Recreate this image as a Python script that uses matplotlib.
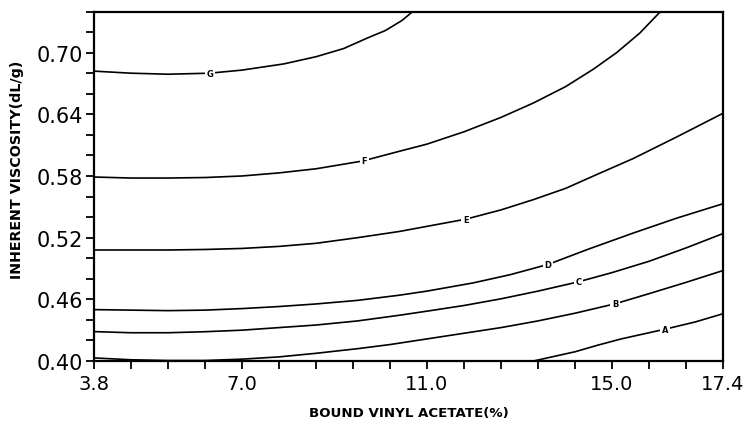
import numpy as np
import matplotlib
matplotlib.use("Agg")
import matplotlib.pyplot as plt

# contour lines of inherent viscosity vs bound vinyl acetate, labelled A..G
curve_names = ["A", "B", "C", "D", "E", "F", "G"]

x_A = [13.3, 13.7, 14.2, 14.7, 15.2, 15.7, 16.15, 16.8, 17.4]
y_A = [0.400, 0.404, 0.409, 0.4155, 0.4215, 0.4265, 0.431, 0.438, 0.446]

x_B = [3.8, 4.6, 5.4, 6.2, 7.0, 7.8, 8.6, 9.5, 10.2, 11.0, 11.8, 12.6, 13.4, 14.2, 15.07, 15.8, 16.6, 17.4]
y_B = [0.403, 0.4012, 0.4005, 0.4005, 0.4018, 0.404, 0.4075, 0.412, 0.416, 0.4215, 0.427, 0.4325,
       0.439, 0.4465, 0.4557, 0.4655, 0.4765, 0.488]

x_C = [3.8, 4.6, 5.4, 6.2, 7.0, 7.8, 8.6, 9.5, 10.4, 11.0, 11.8, 12.6, 13.4, 14.27, 15.0, 15.8, 16.6, 17.4]
y_C = [0.4286, 0.4275, 0.4275, 0.4285, 0.430, 0.4325, 0.435, 0.439, 0.4445, 0.4485, 0.454, 0.4605,
       0.468, 0.477, 0.486, 0.497, 0.510, 0.524]

x_D = [3.8, 4.6, 5.4, 6.2, 7.0, 7.8, 8.6, 9.5, 10.4, 11.0, 12.0, 12.8, 13.62, 14.5, 15.46, 16.4, 17.4]
y_D = [0.450, 0.4495, 0.449, 0.4495, 0.451, 0.453, 0.4555, 0.459, 0.464, 0.468, 0.476, 0.484,
       0.494, 0.509, 0.5245, 0.539, 0.553]

x_E = [3.8, 4.6, 5.4, 6.2, 7.0, 7.8, 8.6, 9.5, 10.4, 11.0, 11.84, 12.6, 13.3, 14.0, 14.7, 15.46, 16.4, 17.4]
y_E = [0.508, 0.508, 0.508, 0.5085, 0.5095, 0.5115, 0.5145, 0.520, 0.526, 0.531, 0.538, 0.547,
       0.557, 0.568, 0.582, 0.597, 0.618, 0.641]

x_F = [3.8, 4.6, 5.4, 6.2, 7.0, 7.8, 8.6, 9.6, 10.4, 11.0, 11.8, 12.6, 13.3, 14.0, 14.6, 15.1, 15.6, 16.07]
y_F = [0.579, 0.578, 0.578, 0.5785, 0.580, 0.583, 0.587, 0.5945, 0.604, 0.611, 0.623, 0.637,
       0.651, 0.667, 0.684, 0.700, 0.719, 0.741]

x_G = [3.8, 4.6, 5.4, 6.3, 7.0, 7.9, 8.6, 9.2, 9.7, 10.1, 10.45, 10.72]
y_G = [0.682, 0.680, 0.679, 0.680, 0.683, 0.689, 0.696, 0.704, 0.714, 0.7215, 0.731, 0.741]

# where each letter sits along its line
label_x = [16.15, 15.07, 14.27, 13.62, 11.84, 9.64, 6.31]

x_ticks = np.round(np.arange(3.8, 17.41, 0.8), 1)
x_ticklabels = ["3.8", "7.0", "11.0", "15.0", "17.4"]
y_ticks = np.round(np.arange(0.40, 0.741, 0.02), 2)
y_ticklabels = ["0.40", "0.46", "0.52", "0.58", "0.64", "0.70"]

curves = {
    "A": (x_A, y_A), "B": (x_B, y_B), "C": (x_C, y_C), "D": (x_D, y_D),
    "E": (x_E, y_E), "F": (x_F, y_F), "G": (x_G, y_G),
}

fig = plt.figure(figsize=(7.44, 4.27), dpi=100)
ax = fig.add_axes([0.1263, 0.1522, 0.8455, 0.8185])

for name, lx in zip(curve_names, label_x):
    xs, ys = curves[name]
    ax.plot(xs, ys, color="black", lw=1.2, solid_joinstyle="round")
    ly = np.interp(lx, xs, ys)
    ax.text(lx, ly, name, fontsize=6, fontweight="bold", ha="center", va="center",
            bbox=dict(facecolor="white", edgecolor="none", pad=1.2))

ax.set_xlim(3.8, 17.4)
ax.set_ylim(0.40, 0.74)

ax.set_xticks(x_ticks)
ax.set_xticklabels([f"{v:.1f}" if f"{v:.1f}" in x_ticklabels else "" for v in x_ticks])
ax.set_yticks(y_ticks)
ax.set_yticklabels([f"{v:.2f}" if f"{v:.2f}" in y_ticklabels else "" for v in y_ticks])

ax.tick_params(direction="out", length=6, width=1.3, pad=2)
ax.tick_params(axis="x", labelsize=14, pad=3)
ax.tick_params(axis="y", labelsize=15)
for sp in ax.spines.values():
    sp.set_linewidth(1.6)

ax.set_xlabel("BOUND VINYL ACETATE(%)", fontsize=9.6, fontweight="bold", labelpad=10)
ax.set_ylabel("INHERENT VISCOSITY(dL/g)", fontsize=10.3, fontweight="bold")
ax.yaxis.set_label_coords(-0.112, 0.55)

fig.savefig("out.png", dpi=100)
